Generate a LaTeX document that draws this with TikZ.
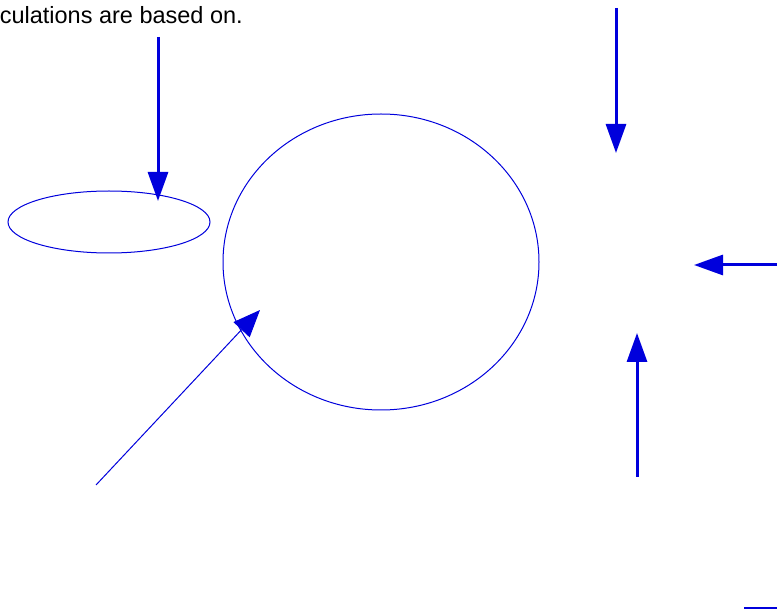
\documentclass[tikz,border=0pt]{standalone}
\usepackage{fontspec}
\setmainfont{Liberation Sans}
\usetikzlibrary{arrows.meta}
\definecolor{penblue}{RGB}{0,0,220}
\tikzset{
  thick arrow/.style={draw=penblue, line width=3pt, -{Triangle[length=29pt,width=20pt]}},
  thin arrow/.style={draw=penblue, line width=1pt, -{Triangle[length=27pt,width=22pt]}},
  outline/.style={draw=penblue, line width=1pt}
}
\begin{document}
\begin{tikzpicture}[x=1pt,y=-1pt]
\useasboundingbox (0,0) rectangle (777,609);
\node[anchor=base east, inner sep=0pt, font=\fontsize{23.5}{27}\selectfont] (caption) at (243,24) {culations are based on.};
% shapes
\draw[outline] (109,222) ellipse [x radius=101, y radius=31];
\draw[outline] (381,262) ellipse [x radius=158, y radius=148];
% coordinates
\coordinate (a1s) at (158,37);  \coordinate (a1e) at (158,201);
\coordinate (a2s) at (616,8);   \coordinate (a2e) at (616,153);
\coordinate (a3s) at (777,265); \coordinate (a3e) at (694,265);
\coordinate (a4s) at (637,477); \coordinate (a4e) at (637,333);
\coordinate (a5s) at (96,485);  \coordinate (a5e) at (260,310);
\coordinate (l1s) at (744,608); \coordinate (l1e) at (777,608);
\draw[thick arrow] (a1s) -- (a1e);
\draw[thick arrow] (a2s) -- (a2e);
\draw[thick arrow] (a3s) -- (a3e);
\draw[thick arrow] (a4s) -- (a4e);
\draw[thin arrow] (a5s) -- (a5e);
\draw[draw=penblue, line width=1.5pt] (l1s) -- (l1e);
\end{tikzpicture}
\end{document}
